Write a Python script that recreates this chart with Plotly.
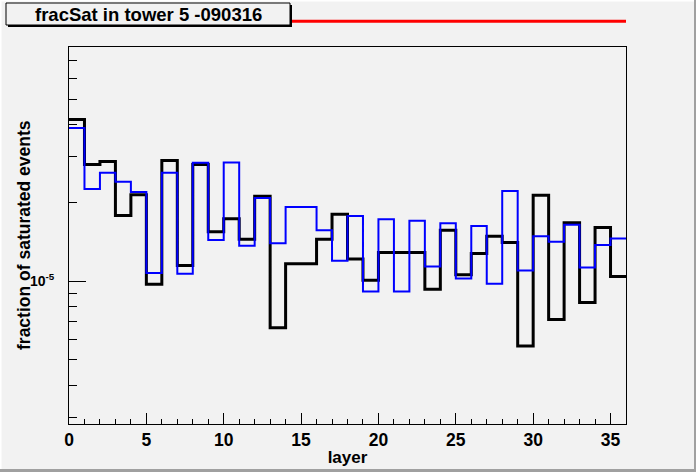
import math
import plotly.graph_objects as go

# layer bins 0..35, width 1
layer_edges = list(range(37))

# fraction of saturated events per layer (two runs)
frac_black = [4.18e-5, 2.81e-5, 2.88e-5, 1.79e-5, 2.15e-5, 9.76e-6, 2.91e-5, 1.15e-5,
              2.81e-5, 1.55e-5, 1.74e-5, 1.45e-5, 2.12e-5, 6.64e-6, 1.17e-5, 1.17e-5,
              1.45e-5, 1.81e-5, 1.22e-5, 1.01e-5, 1.29e-5, 1.29e-5, 1.29e-5, 9.34e-6,
              1.57e-5, 1.06e-5, 1.28e-5, 1.49e-5, 1.41e-5, 5.65e-6, 2.14e-5, 7.15e-6,
              1.68e-5, 8.31e-6, 1.61e-5, 1.045e-5]
frac_blue = [3.87e-5, 2.26e-5, 2.61e-5, 2.41e-5, 2.20e-5, 1.076e-5, 2.61e-5, 1.07e-5,
             2.85e-5, 1.44e-5, 2.86e-5, 1.37e-5, 2.09e-5, 1.40e-5, 1.93e-5, 1.93e-5,
             1.57e-5, 1.20e-5, 1.78e-5, 9.15e-6, 1.73e-5, 9.15e-6, 1.71e-5, 1.14e-5,
             1.67e-5, 1.025e-5, 1.63e-5, 9.79e-6, 2.22e-5, 1.10e-5, 1.49e-5, 1.42e-5,
             1.65e-5, 1.13e-5, 1.38e-5, 1.46e-5]

y_major = [1e-5]
y_major_text = ["10<sup>-5</sup>"]
y_minor = [3e-6, 4e-6, 5e-6, 6e-6, 7e-6, 8e-6, 9e-6,
           2e-5, 3e-5, 4e-5, 5e-5, 6e-5, 7e-5]
y_lo, y_hi = 2.84e-6, 7.92e-5

W, H = 696, 472
L, R, T, B = 69, 70, 47, 48
BG = "#f2f2f2"


def px(xp):
    return (xp - L) / (W - L - R)


def py(yp):
    return (H - B - yp) / (H - T - B)


fig = go.Figure()

fig.add_trace(go.Scatter(
    x=layer_edges, y=frac_black + frac_black[-1:], mode="lines",
    line=dict(color="black", width=3, shape="hv"), showlegend=False))
fig.add_trace(go.Scatter(
    x=layer_edges, y=frac_blue + frac_blue[-1:], mode="lines",
    line=dict(color="#0000ff", width=2, shape="hv"), showlegend=False))

font = dict(family="Liberation Sans, Arial, sans-serif", color="black", weight="bold")

fig.update_xaxes(
    range=[0, 36], showline=True, linecolor="black", linewidth=1, mirror=True,
    showgrid=False, zeroline=False,
    ticks="inside", tickmode="linear", tick0=0, dtick=5, ticklen=11,
    tickcolor="black", tickwidth=1,
    minor=dict(ticks="inside", dtick=1, tick0=0, ticklen=5, tickcolor="black"),
    tickfont=dict(size=17.5, **font),
    title=dict(text="layer", font=dict(size=17, **font), standoff=2),
)
fig.update_yaxes(
    type="log", range=[math.log10(y_lo), math.log10(y_hi)],
    showline=True, linecolor="black", linewidth=1, mirror=True,
    showgrid=False, zeroline=False,
    ticks="inside", tickmode="array", tickvals=y_major, ticktext=y_major_text,
    ticklen=17, tickcolor="black",
    minor=dict(ticks="inside", tickmode="array", tickvals=y_minor, ticklen=8,
               tickcolor="black"),
    tickfont=dict(size=14, **font), ticklabelstandoff=11,
)

shapes = [
    # red line behind the title box
    dict(type="line", xref="paper", yref="paper", x0=0, x1=1, y0=py(21.3), y1=py(21.3),
         line=dict(color="#ff0000", width=3)),
    # title box shadow and box
    dict(type="rect", xref="paper", yref="paper", x0=px(8), x1=px(292), y0=py(27), y1=py(5),
         fillcolor="black", line=dict(width=0)),
    dict(type="rect", xref="paper", yref="paper", x0=px(6), x1=px(290), y0=py(25), y1=py(3),
         fillcolor=BG, line=dict(color="black", width=1)),
    # canvas bevel
    dict(type="rect", xref="paper", yref="paper", x0=px(0), x1=px(W), y0=py(0), y1=py(1.5),
         fillcolor="white", line=dict(width=0)),
    dict(type="rect", xref="paper", yref="paper", x0=px(0), x1=px(1.5), y0=py(0), y1=py(H),
         fillcolor="white", line=dict(width=0)),
    dict(type="rect", xref="paper", yref="paper", x0=px(W - 2), x1=px(W), y0=py(0), y1=py(H),
         fillcolor="#a0a0a0", line=dict(width=0)),
    dict(type="rect", xref="paper", yref="paper", x0=px(0), x1=px(W), y0=py(H - 3), y1=py(H),
         fillcolor="#a0a0a0", line=dict(width=0)),
]

fig.add_annotation(
    text="fracSat in tower 5 -090316", xref="paper", yref="paper",
    x=px(148), y=py(14), xanchor="center", yanchor="middle", showarrow=False,
    font=dict(size=18.5, **font))
# y-axis title, placed like ROOT does (right next to the label column)
fig.add_annotation(
    text="fraction of saturated events", xref="paper", yref="paper",
    x=px(23.5), y=0.5, xanchor="center", yanchor="middle", textangle=-90,
    showarrow=False, font=dict(size=17.5, **font))

fig.update_layout(
    width=W, height=H, margin=dict(l=L, r=R, t=T, b=B, autoexpand=False),
    paper_bgcolor=BG, plot_bgcolor=BG, shapes=shapes, showlegend=False,
)

fig.write_html("out.html", config={"displayModeBar": False},
               post_script="document.body.style.margin='0';document.body.style.overflow='hidden';")
